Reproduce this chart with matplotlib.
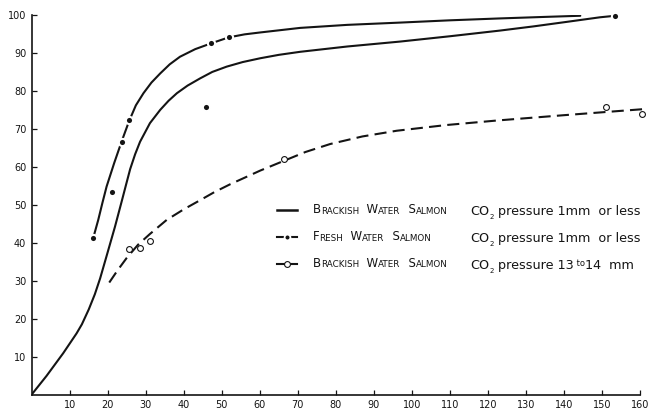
import matplotlib
matplotlib.use("Agg")
import matplotlib.pyplot as plt

# 读图得到的数据 (x: 横轴, y: 百分比)
# 淡水鲑鱼 观测点 (实心点)
fresh_x = [16.2, 21.1, 23.7, 25.6, 45.8, 47.1, 51.8, 153.5]
fresh_y = [41.3, 53.3, 66.5, 72.3, 75.7, 92.5, 94.1, 99.8]

# 半咸水鲑鱼 13-14mm 观测点 (空心圈)
brack_hi_x = [25.6, 28.5, 31.1, 66.4, 151.0, 160.5]
brack_hi_y = [38.3, 38.5, 40.5, 62.0, 75.8, 73.9]

# 淡水鲑鱼 曲线
curve_fresh_x = [16.2, 17.5, 18.6, 19.7, 21.7, 23.7, 25.6, 27.4, 29.4, 31.5, 33.8,
                 36.3, 39.0, 43.0, 47.1, 51.8, 56.0, 60.1, 70.6, 83.0, 96.9,
                 110.0, 123.2, 135.0, 144.3]
curve_fresh_y = [41.3, 46.0, 50.5, 54.8, 61.0, 66.8, 72.0, 76.2, 79.4, 82.2, 84.6,
                 87.0, 89.0, 91.0, 92.5, 94.1, 94.9, 95.4, 96.6, 97.4, 98.0,
                 98.6, 99.1, 99.5, 99.8]

# 半咸水鲑鱼 1mm 曲线 (实线, 从原点开始)
curve_brack_x = [0.0, 3.9, 8.3, 11.8, 13.2, 15.0, 16.6, 18.0, 19.9, 21.9, 23.7,
                 24.9, 25.9, 27.2, 28.5, 31.1, 33.8, 36.0, 38.2, 41.0, 44.3,
                 47.5, 51.3, 55.5, 60.1, 65.0, 70.6, 83.0, 96.9, 110.0, 123.2,
                 132.0, 140.8, 149.5, 153.5]
curve_brack_y = [0.0, 4.9, 10.9, 16.1, 18.5, 22.4, 26.4, 30.6, 37.2, 44.2, 51.0,
                 55.6, 59.4, 63.3, 66.6, 71.5, 75.0, 77.4, 79.4, 81.4, 83.3,
                 85.0, 86.4, 87.6, 88.6, 89.5, 90.3, 91.7, 93.0, 94.4, 95.9,
                 97.0, 98.2, 99.4, 99.8]

# 半咸水鲑鱼 13-14mm 曲线 (虚线)
curve_hi_x = [20.4, 22.5, 25.0, 28.0, 31.1, 35.5, 40.0, 44.3, 48.0, 52.2, 56.6,
              60.1, 66.4, 72.0, 78.5, 87.0, 96.0, 109.0, 122.4, 140.0, 161.0]
curve_hi_y = [29.5, 32.6, 36.0, 39.5, 42.3, 46.0, 48.8, 51.2, 53.3, 55.4, 57.4,
              59.0, 61.6, 63.9, 66.0, 68.0, 69.5, 71.0, 72.2, 73.6, 75.2]

x_ticks = list(range(10, 170, 10))
y_ticks = list(range(10, 110, 10))

ink = "#141414"

fig = plt.figure(figsize=(6.55, 4.12), dpi=100)
ax = fig.add_axes([31.7 / 655, (412 - 394.5) / 412, 608.3 / 655, 379.5 / 412])

# 曲线
ax.plot(curve_brack_x, curve_brack_y, color=ink, lw=1.5, solid_capstyle="round",
        solid_joinstyle="round")
ax.plot(curve_fresh_x, curve_fresh_y, color=ink, lw=1.5, solid_capstyle="round",
        solid_joinstyle="round")
ax.plot(curve_hi_x, curve_hi_y, color=ink, lw=1.5, dashes=(5.8, 3.0), clip_on=False)

# 数据点
ax.plot(fresh_x, fresh_y, ls="none", marker="o", ms=5.2, mfc=ink, mec="white",
        mew=1.5, clip_on=False, zorder=3)
ax.plot(brack_hi_x, brack_hi_y, ls="none", marker="o", ms=4.2, mfc="white",
        mec=ink, mew=0.8, clip_on=False, zorder=3)

# 坐标轴
ax.set_xlim(0, 160)
ax.set_ylim(0, 100)
ax.set_xticks(x_ticks)
ax.set_yticks(y_ticks)
ax.set_xticklabels([str(v) for v in x_ticks])
ax.set_yticklabels([str(v) for v in y_ticks])
for side in ["top", "right"]:
    ax.spines[side].set_visible(False)
for side in ["left", "bottom"]:
    ax.spines[side].set_linewidth(1.2)
    ax.spines[side].set_color(ink)
ax.tick_params(direction="in", length=3.5, width=0.9, color=ink,
               labelsize=7, labelcolor=ink, pad=4)


# 图例 (手工排版): 一串文字片段, 每段 (文字, 字号, 上下偏移)
def chain(x, y, parts):
    first = ax.text(x, y, parts[0][0], transform=ax.transAxes, fontsize=parts[0][1],
                    va="bottom", ha="left", color=ink)
    prev = first
    for s, size, dy in parts[1:]:
        prev = ax.annotate(s, xy=(1, 0), xycoords=(prev, first), xytext=(0, dy),
                           textcoords="offset points", fontsize=size,
                           va="bottom", ha="left", color=ink)


def small_caps(words, big=8.5, small=6.3):
    parts = []
    for i, w in enumerate(words):
        parts.append((("  " if i > 0 else "") + w[0], big, 0))
        parts.append((w[1:].upper(), small, 0.3))
    return parts


rows_y = [0.470, 0.399, 0.329]
names = [["Brackish", "Water", "Salmon"],
         ["Fresh", "Water", "Salmon"],
         ["Brackish", "Water", "Salmon"]]
conds = [[("CO", 9.2, 0), ("2", 5, -1.2), (" pressure 1mm  or less", 9.2, 0)],
         [("CO", 9.2, 0), ("2", 5, -1.2), (" pressure 1mm  or less", 9.2, 0)],
         [("CO", 9.2, 0), ("2", 5, -1.2), (" pressure 13", 9.2, 0),
          (" to", 6, 2.5), ("14  mm", 9.2, 0)]]

hx = [0.403, 0.4195, 0.436]
ry = rows_y[0] + 0.016
ax.plot(hx, [ry] * 3, transform=ax.transAxes, color=ink, lw=1.8)
ry = rows_y[1] + 0.016
ax.plot(hx, [ry] * 3, transform=ax.transAxes, color=ink, lw=1.5, marker="o",
        markevery=[1], ms=4.2, mfc=ink, mec="white", mew=1.3)
ry = rows_y[2] + 0.016
ax.plot(hx, [ry] * 3, transform=ax.transAxes, color=ink, lw=1.5, marker="o",
        markevery=[1], ms=4.2, mfc="white", mec=ink, mew=0.8)

for ry, nm, cd in zip(rows_y, names, conds):
    chain(0.462, ry, small_caps(nm))
    chain(0.721, ry - 0.006, cd)

plt.savefig("out.png", dpi=100)
